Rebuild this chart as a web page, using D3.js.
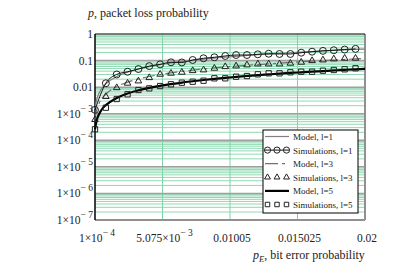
<!DOCTYPE html>
<html>
<head>
<meta charset="utf-8">
<script src="https://cdn.jsdelivr.net/npm/d3@7"></script>
<style>
body { margin: 0; background: #fff; }
svg { display: block; font-family: "Liberation Serif", "Times New Roman", serif; }
</style>
</head>
<body>
<script>
// Точки моделирования (шаг 8e-4 по вероятности ошибки бита)
var simX = [0.0001, 0.0009, 0.0017, 0.0025, 0.0033, 0.0041, 0.0049, 0.0057, 0.0065, 0.0073,
	0.0081, 0.0089, 0.0097, 0.0105, 0.0113, 0.0121, 0.0129, 0.0137, 0.0145, 0.0153,
	0.0161, 0.0169, 0.0177, 0.0185, 0.0193];
var simL1 = [0.0014, 0.014, 0.030, 0.038, 0.048, 0.062, 0.072, 0.086, 0.085, 0.105,
	0.122, 0.133, 0.149, 0.162, 0.162, 0.172, 0.181, 0.177, 0.177, 0.198,
	0.216, 0.232, 0.245, 0.26, 0.275];
var simL3 = [0.0006, 0.0044, 0.0095, 0.014, 0.017, 0.0227, 0.0304, 0.0332, 0.0362, 0.0416,
	0.0442, 0.0512, 0.0588, 0.0625, 0.0681, 0.0743, 0.0743, 0.0743, 0.0789, 0.0861,
	0.0989, 0.105, 0.115, 0.122, 0.122];
var simL5 = [0.00026, 0.00168, 0.00358, 0.00538, 0.0078, 0.0090, 0.0110, 0.0128, 0.0147, 0.0160,
	0.0175, 0.0215, 0.0215, 0.0247, 0.0262, 0.0304, 0.0332, 0.0332, 0.0362, 0.0381,
	0.0381, 0.0416, 0.0442, 0.0469, 0.0512];

// Модельные кривые (сгущены у левого края)
var modelX = [0.0001, 0.0002, 0.0003, 0.0005, 0.0007, 0.0009, 0.0017, 0.0025, 0.0033, 0.0041,
	0.0049, 0.0057, 0.0065, 0.0073, 0.0081, 0.0089, 0.0097, 0.0105, 0.0113, 0.0121,
	0.0129, 0.0137, 0.0145, 0.0153, 0.0161, 0.0169, 0.0177, 0.0185, 0.0193, 0.02];
var modelL1 = [0.0015, 0.003, 0.0045, 0.0075, 0.0104, 0.0134, 0.025, 0.0365, 0.048, 0.059,
	0.070, 0.081, 0.092, 0.103, 0.113, 0.124, 0.134, 0.145, 0.155, 0.166,
	0.176, 0.187, 0.197, 0.208, 0.219, 0.23, 0.241, 0.252, 0.263, 0.272];
var modelL3 = [0.00062, 0.00124, 0.00186, 0.0031, 0.0043, 0.0055, 0.0105, 0.0154, 0.0203, 0.0251,
	0.0298, 0.0345, 0.0392, 0.0438, 0.0484, 0.0529, 0.0574, 0.0618, 0.0662, 0.0705,
	0.0748, 0.080, 0.085, 0.090, 0.095, 0.100, 0.105, 0.110, 0.115, 0.12];
var modelL5 = [0.00026, 0.0005, 0.00074, 0.0012, 0.0017, 0.0021, 0.0039, 0.0058, 0.0076, 0.0094,
	0.0112, 0.0130, 0.0149, 0.0167, 0.0186, 0.0205, 0.0224, 0.0243, 0.0262, 0.0282,
	0.0302, 0.0322, 0.0342, 0.0362, 0.0383, 0.0404, 0.0425, 0.0447, 0.0469, 0.0488];

var xTicks = [0.0001, 0.005075, 0.01005, 0.015025, 0.02];
var xTickLabels = ["1×10^− 4", "5.075×10^− 3", "0.01005", "0.015025", "0.02"];
var yTicks = [1e-7, 1e-6, 1e-5, 1e-4, 1e-3, 0.01, 0.1, 1];
var yTickLabels = ["1×10^− 7", "1×10^− 6", "1×10^− 5", "1×10^− 4", "1×10^− 3", "0.01", "0.1", "1"];
var legendNames = ["Model, l=1", "Simulations, l=1", "Model, l=3", "Simulations, l=3", "Model, l=5", "Simulations, l=5"];

var W = 415, H = 273;
var box = { left: 95, right: 365, top: 34, bottom: 220 };

var svg = d3.select("body").append("svg").attr("width", W).attr("height", H);
var xScale = d3.scaleLinear().domain([0.0001, 0.02]).range([box.left, box.right]);
var yScale = d3.scaleLog().domain([1e-7, 1]).range([box.bottom, box.top]);

// сетка: мелкие деления зелёные, декады серые
var minor = [];
yTicks.slice(0, -1).forEach(function(d) {
	for (var m = 2; m <= 9; ++m) minor.push(d * m);
});
svg.append("g").selectAll("line").data(minor).enter().append("line")
	.attr("x1", box.left).attr("x2", box.right)
	.attr("y1", function(d) { return yScale(d); })
	.attr("y2", function(d) { return yScale(d); })
	.style("stroke", "#8fd9b2").style("stroke-width", 1);
svg.append("g").selectAll("line").data(xTicks.slice(1, -1)).enter().append("line")
	.attr("x1", function(d) { return xScale(d); })
	.attr("x2", function(d) { return xScale(d); })
	.attr("y1", box.top).attr("y2", box.bottom)
	.style("stroke", "#7fd4a8").style("stroke-width", 1);
svg.append("g").selectAll("line").data(yTicks.slice(1, -1)).enter().append("line")
	.attr("x1", box.left).attr("x2", box.right)
	.attr("y1", function(d) { return yScale(d); })
	.attr("y2", function(d) { return yScale(d); })
	.style("stroke", "#a0a0a0").style("stroke-width", 1.5);

// рамка
svg.append("line").attr("x1", box.left).attr("x2", box.right).attr("y1", box.bottom).attr("y2", box.bottom)
	.style("stroke", "#909090").style("stroke-width", 2);
svg.append("line").attr("x1", box.right).attr("x2", box.right).attr("y1", box.top).attr("y2", box.bottom)
	.style("stroke", "#909090").style("stroke-width", 2);
svg.append("line").attr("x1", box.left).attr("x2", box.right).attr("y1", box.top).attr("y2", box.top)
	.style("stroke", "#000").style("stroke-width", 1.2);
svg.append("line").attr("x1", box.left).attr("x2", box.left).attr("y1", box.top).attr("y2", box.bottom)
	.style("stroke", "#000").style("stroke-width", 1.5);

// подпись вида "1×10^− 4" -> основание и степень
function label(sel, s) {
	var p = s.split("^");
	sel.append("tspan").text(p[0]);
	if (p.length > 1) {
		sel.append("tspan").attr("dy", -6).style("font-size", "9.5px").text(p[1]);
	}
}

svg.append("g").selectAll("text").data(yTicks).enter().append("text")
	.attr("x", 93)
	.attr("y", function(d) { return yScale(d) + 4; })
	.attr("text-anchor", "end")
	.style("font-size", "11.5px").style("fill", "#222")
	.each(function(d, i) { label(d3.select(this), yTickLabels[i]); });

svg.append("g").selectAll("text").data(xTicks).enter().append("text")
	.attr("x", function(d) { return xScale(d) + 2; })
	.attr("y", 242)
	.attr("text-anchor", "middle")
	.style("font-size", "11.5px").style("fill", "#222")
	.each(function(d, i) { label(d3.select(this), xTickLabels[i]); });

// подписи осей
var yt = svg.append("text").attr("x", 88).attr("y", 17).style("font-size", "12px").style("fill", "#222");
yt.append("tspan").style("font-style", "italic").text("p");
yt.append("tspan").text(", packet loss probability");
var xt = svg.append("text").attr("x", 253).attr("y", 259).style("font-size", "12px").style("fill", "#222");
xt.append("tspan").style("font-style", "italic").text("p");
xt.append("tspan").attr("dy", 3).style("font-size", "8.5px").style("font-style", "italic").text("E");
xt.append("tspan").attr("dy", -3).text(", bit error probability");

// кривые
var plot = svg.append("g");
function curve(xs, ys) {
	return d3.line()
		.x(function(d, i) { return xScale(xs[i]); })
		.y(function(d) { return yScale(d); })
		.curve(d3.curveMonotoneX)(ys);
}
plot.append("path").attr("d", curve(modelX, modelL1))
	.style("fill", "none").style("stroke", "#808080").style("stroke-width", 1.2);
plot.append("path").attr("d", curve(modelX, modelL3))
	.style("fill", "none").style("stroke", "#707070").style("stroke-width", 1.2)
	.style("stroke-dasharray", "12,4,3,4");
plot.append("path").attr("d", curve(modelX, modelL5))
	.style("fill", "none").style("stroke", "#000").style("stroke-width", 2.2);
plot.append("path").attr("d", curve(simX, simL1))
	.style("fill", "none").style("stroke", "#111").style("stroke-width", 1);

// маркеры
var circ = d3.symbol().type(d3.symbolCircle).size(38);
var tri = d3.symbol().type(d3.symbolTriangle).size(19);
var sq = d3.symbol().type(d3.symbolSquare).size(28);
var circS = d3.symbol().type(d3.symbolCircle).size(30);
var triS = d3.symbol().type(d3.symbolTriangle).size(15);
var sqS = d3.symbol().type(d3.symbolSquare).size(20);
function marks(ys, sym) {
	plot.append("g").selectAll("path").data(ys).enter().append("path")
		.attr("d", sym)
		.attr("transform", function(d, i) { return "translate(" + xScale(simX[i]) + "," + yScale(d) + ")"; })
		.style("fill", "none").style("stroke", "#222").style("stroke-width", 1);
}
marks(simL1, circ);
marks(simL3, tri);
marks(simL5, sq);

// легенда
var lg = svg.append("g");
lg.append("rect").attr("x", 263).attr("y", 130).attr("width", 95).attr("height", 83)
	.style("fill", "#fff").style("stroke", "#000").style("stroke-width", 1);
var rowY = d3.scaleLinear().domain([0, 5]).range([136.5, 204.5]);
lg.selectAll("text").data(legendNames).enter().append("text")
	.attr("x", 293).attr("y", function(d, i) { return rowY(i) + 3.5; })
	.style("font-size", "9px").style("fill", "#222")
	.text(function(d) { return d; });
function sample(i, stroke, width, dash) {
	lg.append("line").attr("x1", 265).attr("x2", 289).attr("y1", rowY(i)).attr("y2", rowY(i))
		.style("stroke", stroke).style("stroke-width", width).style("stroke-dasharray", dash || null);
}
sample(0, "#808080", 1.2);
sample(1, "#111", 1);
sample(2, "#707070", 1.2, "13,4,3,10");
sample(4, "#000", 2.2);
[[1, circS], [3, triS], [5, sqS]].forEach(function(r) {
	lg.append("g").selectAll("path").data([267.5, 277, 286.5]).enter().append("path")
		.attr("d", r[1])
		.attr("transform", function(d) { return "translate(" + d + "," + rowY(r[0]) + ")"; })
		.style("fill", "none").style("stroke", "#222").style("stroke-width", 1);
});
</script>
</body>
</html>
